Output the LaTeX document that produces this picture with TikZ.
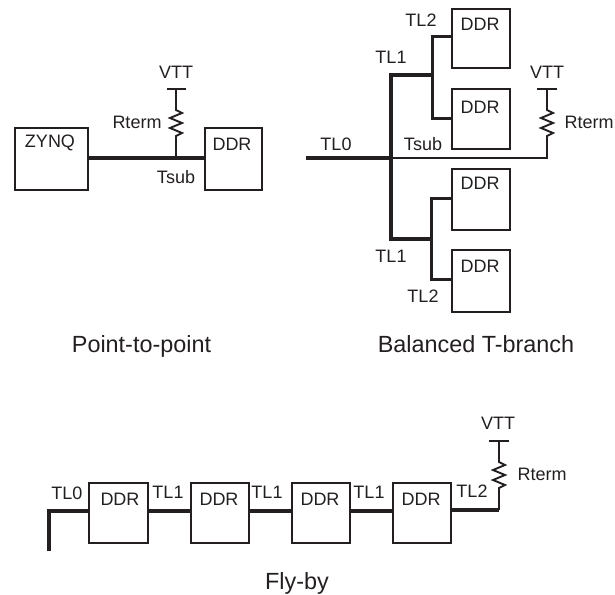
\documentclass[tikz,border=0pt]{standalone}
\usepackage{fontspec}
\setmainfont{Liberation Sans}
\definecolor{ink}{HTML}{231F20}
\tikzset{
  ddrbox/.style={draw=ink,line width=1.9pt,minimum width=#1,minimum height=60pt,inner sep=0pt,anchor=north west},
  ddrbox/.default=58pt,
  txt/.style={inner sep=0pt,text=ink,font=\fontsize{18}{21}\selectfont},
  title/.style={inner sep=0pt,text=ink,anchor=base,font=\fontsize{23.4}{27}\selectfont},
  thick bus/.style={draw=ink,line width=3.4pt,line cap=butt,line join=miter},
  mid bus/.style={draw=ink,line width=3pt,line join=miter},
  thin wire/.style={draw=ink,line width=1.1pt},
  bar/.style={draw=ink,line width=2.2pt},
  zig/.style={draw=ink,line width=1.9pt,line join=miter}
}
\newcommand{\ztop}[2]{% resistor body from (#1) top y offset
  \draw[zig] (#1) -- ++(0,5) -- ++(6,3) -- ++(-12,5) -- ++(12,5) -- ++(-12,5) -- ++(12,5) -- ++(-6,3) -- ++(0,#2);}
\begin{document}
\begin{tikzpicture}[x=1pt,y=-1pt]
\useasboundingbox (0,0) rectangle (615,594);
% Point-to-point
\node[ddrbox=73pt,minimum height=62pt] (zynq) at (14,127) {};
\node[ddrbox=57pt,minimum height=62pt] (pddr) at (204,127) {};
\coordinate (pj) at (176,158);
\coordinate (pv) at (176,89);
\coordinate (pvl) at (167,89);
\coordinate (pvr) at (186,89);
\coordinate (prt) at (176,105);
\coordinate (prb) at (176,139);
\draw[thick bus] (zynq.east |- pj) -- (pddr.west |- pj);
\draw[thin wire] (pv) -- (prt);
\draw[thin wire] (prb) -- (pj);
\draw[bar] (pvl) -- (pvr);
\ztop{prt}{3}
\node[txt] (t1) at (50,143) {ZYNQ};
\node[txt] (t2) at (232,144) {DDR};
\node[txt] (t3) at (176,177) {Tsub};
\node[txt] (t4) at (137,122) {Rterm};
\node[txt] (t5) at (176,72) {VTT};
\node[title] (t6) at (141.5,352) {Point-to-point};
% Balanced T-branch
\node[ddrbox,minimum height=59pt] (b1) at (451,8) {};
\node[ddrbox,minimum height=60pt] (b2) at (451,88) {};
\node[ddrbox,minimum height=61pt] (b3) at (451,168) {};
\node[ddrbox,minimum height=62pt] (b4) at (451,249) {};
\coordinate (tstart) at (306,158);
\coordinate (tj) at (391,158);
\coordinate (tup) at (391,75);
\coordinate (tdn) at (391,239);
\coordinate (tuj) at (432,75);
\coordinate (tdj) at (431,239);
\coordinate (u1) at (432,37);
\coordinate (u2) at (432,118);
\coordinate (d1) at (431,198);
\coordinate (d2) at (431,279);
\coordinate (tv) at (547,89);
\coordinate (tvl) at (537,89);
\coordinate (tvr) at (557,89);
\coordinate (trt) at (547,105);
\coordinate (trb) at (547,139);
\coordinate (tc) at (547,158);
\draw[thick bus] (tstart) -- (tj);
\draw[thick bus] (tuj) -- (tup) -- (tdn) -- (tdj);
\draw[mid bus] (b1.west |- u1) -- (u1) -- (u2) -- (b2.west |- u2);
\draw[mid bus] (b3.west |- d1) -- (d1) -- (d2) -- (b4.west |- d2);
\draw[thin wire] (tj) -- (tc) -- (trb);
\draw[thin wire] (tv) -- (trt);
\draw[bar] (tvl) -- (tvr);
\ztop{trt}{3}
\node[txt] (t7) at (421,20) {TL2};
\node[txt] (t8) at (480,24) {DDR};
\node[txt] (t9) at (391,57) {TL1};
\node[txt] (t10) at (480,107) {DDR};
\node[txt] (t11) at (547,72) {VTT};
\node[txt] (t12) at (589,122) {Rterm};
\node[txt] (t13) at (423,144) {Tsub};
\node[txt] (t14) at (336,144) {TL0};
\node[txt] (t15) at (480,183) {DDR};
\node[txt] (t16) at (480,266) {DDR};
\node[txt] (t17) at (391,256) {TL1};
\node[txt] (t18) at (423,296) {TL2};
\node[title] (t19) at (476,352) {Balanced T-branch};
% Fly-by
\node[ddrbox=59pt] (f1) at (88,482) {};
\node[ddrbox=58pt] (f2) at (190,482) {};
\node[ddrbox=58pt] (f3) at (291,482) {};
\node[ddrbox=58pt] (f4) at (392,482) {};
\coordinate (fs) at (49,551);
\coordinate (fc) at (49,511);
\coordinate (fe) at (499,510);
\coordinate (fv) at (499,441);
\coordinate (fvl) at (489,441);
\coordinate (fvr) at (509,441);
\coordinate (frt) at (499,457);
\coordinate (frb) at (499,491);
\draw[thick bus] (fs) -- (fc) -- (f1.west |- fc);
\draw[thick bus] (f1.east |- fc) -- (f2.west |- fc);
\draw[thick bus] (f2.east |- fc) -- (f3.west |- fc);
\draw[thick bus] (f3.east |- fc) -- (f4.west |- fc);
\draw[thick bus] (f4.east |- fe) -- (fe);
\draw[thin wire] (fe) -- (frb);
\draw[thin wire] (fv) -- (frt);
\draw[bar] (fvl) -- (fvr);
\ztop{frt}{3}
\node[txt] (t20) at (67,493) {TL0};
\node[txt] (t21) at (120,499) {DDR};
\node[txt] (t22) at (168,492) {TL1};
\node[txt] (t23) at (219,499) {DDR};
\node[txt] (t24) at (267,492) {TL1};
\node[txt] (t25) at (320,499) {DDR};
\node[txt] (t26) at (369,492) {TL1};
\node[txt] (t27) at (421,499) {DDR};
\node[txt] (t28) at (472,491) {TL2};
\node[txt] (t29) at (542,474) {Rterm};
\node[txt] (t30) at (498,423) {VTT};
\node[title] (t31) at (297,589) {Fly-by};
\end{tikzpicture}
\end{document}
